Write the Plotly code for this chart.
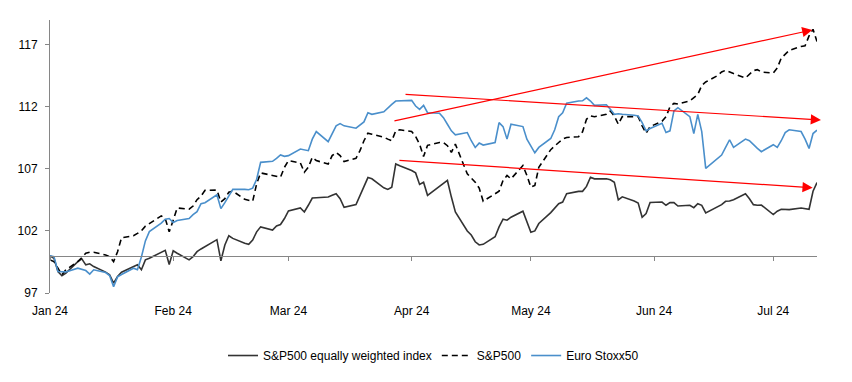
import pandas as pd
import plotly.graph_objects as go

# Business days from Jan 1 to Jul 12, 2024 (x positions of the daily index levels)
dates = pd.bdate_range("2024-01-01", "2024-07-12")

# S&P500 equally weighted index (rebased to 100)
sp_ew = [
    100.0, 99.8, 98.73, 98.39, 98.6, 99.53, 99.75, 99.27, 99.35, 99.13, 98.68, 98.47, 97.8, 98.33, 98.68,
    99.13, 99.27, 98.87, 99.67, 99.8, 100.33, 100.44, 99.3,
    100.4, 100.2, 99.67, 99.93, 100.33, 100.55, 100.73, 101.3, 99.6, 100.87, 101.61, 101.4, 101.0, 100.92,
    101.27, 101.93, 102.33, 102.07, 102.41, 102.52, 103.0,
    103.61, 103.85, 103.53, 104.07, 104.65, 104.68, 104.73, 104.87, 105.0, 104.6, 103.9, 104.12, 104.87,
    105.67, 106.3, 106.2, 105.48, 105.35, 105.53, 107.4, 107.25,
    106.87, 106.68, 105.75, 105.93, 104.87, 105.61, 105.8, 106.07, 104.73, 103.53, 102.0, 101.67, 101.13,
    100.87, 100.92, 101.53, 102.33, 102.95, 102.87, 103.11, 103.59, 102.73,
    101.9, 102.0, 102.6, 103.48, 103.85, 104.2, 104.33, 105.0, 105.19, 105.19, 105.59, 106.33, 106.2, 106.2,
    106.12, 105.93, 104.5, 104.75, 104.41, 104.25, 103.1, 103.4, 104.3,
    104.33, 104.07, 104.28, 104.28, 104.01, 104.07, 103.88, 104.2, 104.07, 103.45, 103.93, 104.12, 104.39,
    104.41, 104.52, 105.0, 104.6, 104.12, 104.07, 104.09,
    103.32, 103.59, 103.75, 103.72, 103.72, 103.85, 103.8, 103.75, 105.2, 105.9,
]

# S&P500 (rebased to 100)
sp500 = [
    99.67, 99.53, 99.0, 98.47, 98.87, 99.53, 99.85, 100.2, 100.28, 100.28, 100.07, 99.93, 99.53, 100.33,
    101.45, 101.61, 101.8, 102.01, 102.39, 102.6, 103.21, 103.0, 101.93,
    102.87, 103.85, 103.75, 104.01, 104.52, 104.81, 105.27, 105.29, 104.33, 104.6, 105.13, 105.21, 104.55,
    104.44, 104.39, 105.8, 106.68, 106.47, 106.39, 106.33, 107.13,
    107.67, 107.48, 106.73, 107.13, 107.93, 107.67, 107.4, 108.07, 108.33, 108.07, 107.59, 107.85, 108.47,
    109.27, 109.88, 109.8, 109.56, 109.4, 109.27, 110.07, 110.15,
    110.01, 109.61, 109.0, 108.0, 108.9, 109.13, 109.13, 108.87, 108.33, 109.0, 106.6, 106.25, 105.93,
    105.45, 104.4, 105.0, 105.21, 106.07, 106.47, 106.2, 107.27, 106.47,
    105.53, 105.67, 107.13, 108.55, 108.87, 109.13, 109.4, 109.53, 109.59, 109.99, 111.0, 111.27, 111.21,
    111.4, 111.67, 111.27, 110.6, 111.21, 111.21, 111.21, 110.47, 109.88, 110.41,
    110.84, 111.2, 112.0, 112.28, 112.23, 112.49, 112.71, 113.0, 113.72, 114.01, 114.52, 114.81, 114.95,
    114.79, 114.68, 114.33, 114.6, 114.92, 115.0, 114.81,
    114.73, 115.13, 115.93, 116.28, 116.55, 116.87, 116.92, 117.72, 118.25, 117.27,
]

# Euro Stoxx50 (rebased to 100)
stoxx50 = [
    100.0, 99.93, 98.73, 98.73, 98.7, 99.0, 98.89, 98.81, 98.52, 98.87, 98.65, 98.41, 97.5, 98.3, 98.49,
    99.0, 98.87, 99.9, 101.2, 101.95, 102.63, 102.95, 103.0,
    102.68, 102.84, 103.0, 103.32, 103.55, 104.2, 104.28, 104.92, 103.8, 104.28, 104.87, 105.35, 105.35,
    105.32, 105.45, 106.17, 107.53, 107.61, 107.85, 108.12, 108.01,
    108.07, 108.6, 108.55, 108.47, 109.4, 110.01, 109.19, 109.8, 110.47, 110.65, 110.47, 110.28, 110.52,
    110.79, 111.53, 111.4, 111.6, 111.93, 112.2, 112.47, 112.47,
    112.52, 112.07, 111.8, 112.12, 111.53, 111.48, 111.13, 110.6, 110.07, 109.75, 109.93, 109.27, 108.73,
    109.08, 108.92, 109.13, 110.73, 110.41, 109.4, 110.6, 110.41, 109.4,
    108.87, 108.3, 108.73, 109.45, 110.15, 111.21, 111.53, 112.3, 112.47, 112.49, 112.73, 112.47, 112.12,
    112.17, 111.8, 111.4, 111.45, 111.4, 111.32, 111.27, 110.73, 110.07, 110.25,
    110.68, 109.93, 110.07, 111.67, 111.93, 111.21, 109.85, 111.4, 110.0, 107.05, 107.8, 108.12, 108.73,
    109.35, 108.73, 109.4, 109.27, 108.92, 108.65, 108.39,
    108.95, 108.73, 109.27, 109.93, 110.15, 110.01, 109.4, 108.65, 109.85, 110.12,
]

series_names = ["S&P500 equally weighted index", "S&P500", "Euro Stoxx50"]

# Red trend arrows (tail -> head), in data coordinates
arrow_tail_x = ["2024-03-27 07:00", "2024-03-30 02:00", "2024-03-28 13:00"]
arrow_tail_y = [110.84, 113.02, 107.70]
arrow_head_x = ["2024-07-10 20:00", "2024-07-13 00:00", "2024-07-10 22:00"]
arrow_head_y = [118.2, 110.94, 105.48]

y_ticks = [97, 102, 107, 112, 117]
y_range = [97, 119]
x_range = ["2024-01-01", "2024-07-12"]
baseline = 100

FONT = "Liberation Sans, Arial, sans-serif"
AXIS_GREY = "#868686"

fig = go.Figure()
fig.add_trace(go.Scatter(x=dates, y=sp_ew, name=series_names[0], mode="lines",
                         line=dict(color="#333333", width=1.6)))
fig.add_trace(go.Scatter(x=dates, y=sp500, name=series_names[1], mode="lines",
                         line=dict(color="#000000", width=1.6, dash="6px,4px")))
fig.add_trace(go.Scatter(x=dates, y=stoxx50, name=series_names[2], mode="lines",
                         line=dict(color="#4A8FCB", width=1.6)))
# invisible helper so the baseline axis (at 100) is drawn
fig.add_trace(go.Scatter(x=dates, y=sp_ew, xaxis="x2", mode="lines", showlegend=False,
                         hoverinfo="skip", opacity=0, line=dict(width=0)))

for tx, ty, hx, hy in zip(arrow_tail_x, arrow_tail_y, arrow_head_x, arrow_head_y):
    fig.add_annotation(x=hx, y=hy, ax=tx, ay=ty, xref="x", yref="y", axref="x", ayref="y",
                       text="", showarrow=True, arrowhead=2, arrowsize=1.7, arrowwidth=1.2,
                       arrowcolor="#FF0000", standoff=0, startstandoff=0)

pos100 = (baseline - y_range[0]) / (y_range[1] - y_range[0])

fig.update_layout(
    width=852, height=382,
    margin=dict(l=50, r=35, t=20, b=87),
    plot_bgcolor="white", paper_bgcolor="white",
    font=dict(family=FONT, size=12, color="#000000"),
    showlegend=True,
    legend=dict(orientation="h", x=0.5, xanchor="center", y=-0.229, yanchor="middle",
                font=dict(family=FONT, size=12), bgcolor="rgba(0,0,0,0)"),
    xaxis=dict(type="date", range=x_range, showline=False, showgrid=False, zeroline=False,
               ticks="", tickformat="%b %y", dtick="M1", tick0="2024-01-01",
               ticklabelstandoff=9, tickfont=dict(family=FONT, size=12)),
    xaxis2=dict(type="date", overlaying="x", matches="x", anchor="free", position=pos100,
                showline=True, linecolor=AXIS_GREY, linewidth=1, ticks="outside", ticklen=4,
                tickcolor=AXIS_GREY, dtick="M1", tick0="2024-01-01", showticklabels=False,
                showgrid=False, zeroline=False),
    yaxis=dict(range=y_range, tickvals=y_ticks, showline=True, linecolor=AXIS_GREY, linewidth=1,
               ticks="outside", ticklen=4, tickcolor=AXIS_GREY, showgrid=False, zeroline=False,
               ticklabelstandoff=5, tickfont=dict(family=FONT, size=12)),
)

fig.write_html("out.html", config={"displayModeBar": False},
               post_script="document.body.style.margin='0';")
